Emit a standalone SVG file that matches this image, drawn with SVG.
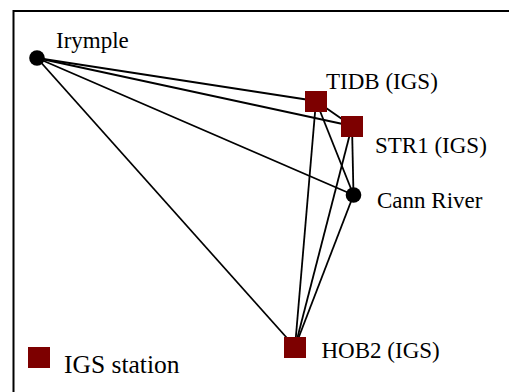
<svg xmlns="http://www.w3.org/2000/svg" width="509" height="392" viewBox="0 0 509 392">
<style>
.frame{fill:none;stroke:#000;stroke-width:2}
.edge{stroke:#000;stroke-width:1.8;fill:none}
.site{fill:#000}
.igs{fill:#7d0000}
.lbl{font-family:"Liberation Serif","Times New Roman",serif;font-size:23px;fill:#000}
.leg{font-family:"Liberation Serif","Times New Roman",serif;font-size:25.5px;fill:#000}
</style>
<rect width="509" height="392" fill="#fff"/>
<rect class="frame" x="13.5" y="11" width="600" height="500"/>
<g id="connectors">
<line class="edge" x1="37" y1="58" x2="316" y2="101"/>
<line class="edge" x1="37" y1="58" x2="352" y2="126"/>
<line class="edge" x1="37" y1="58" x2="353.5" y2="195"/>
<line class="edge" x1="37" y1="58" x2="295" y2="347"/>
<line class="edge" x1="316" y1="101" x2="352" y2="126"/>
<line class="edge" x1="316" y1="101" x2="353.5" y2="195"/>
<line class="edge" x1="316" y1="101" x2="295" y2="347"/>
<line class="edge" x1="352" y1="126" x2="353.5" y2="195"/>
<line class="edge" x1="352" y1="126" x2="295" y2="347"/>
<line class="edge" x1="353.5" y1="195" x2="295" y2="347"/>
</g>
<g id="irymple">
<circle class="site" cx="37" cy="58" r="7.8"/>
<text class="lbl" x="56" y="48">Irymple</text>
</g>
<g id="tidb">
<rect class="igs" x="305" y="91" width="22" height="21"/>
<text class="lbl" x="326" y="89">TIDB (IGS)</text>
</g>
<g id="str1">
<rect class="igs" x="341" y="116" width="22" height="21"/>
<text class="lbl" x="375" y="153">STR1 (IGS)</text>
</g>
<g id="cann-river">
<circle class="site" cx="353.5" cy="195" r="7.8"/>
<text class="lbl" x="377" y="208">Cann River</text>
</g>
<g id="hob2">
<rect class="igs" x="284" y="337" width="22" height="21"/>
<text class="lbl" x="321.5" y="358">HOB2 (IGS)</text>
</g>
<g id="legend">
<rect class="igs" x="28" y="347" width="22" height="21"/>
<text class="leg" x="64" y="372.5">IGS station</text>
</g>
</svg>
